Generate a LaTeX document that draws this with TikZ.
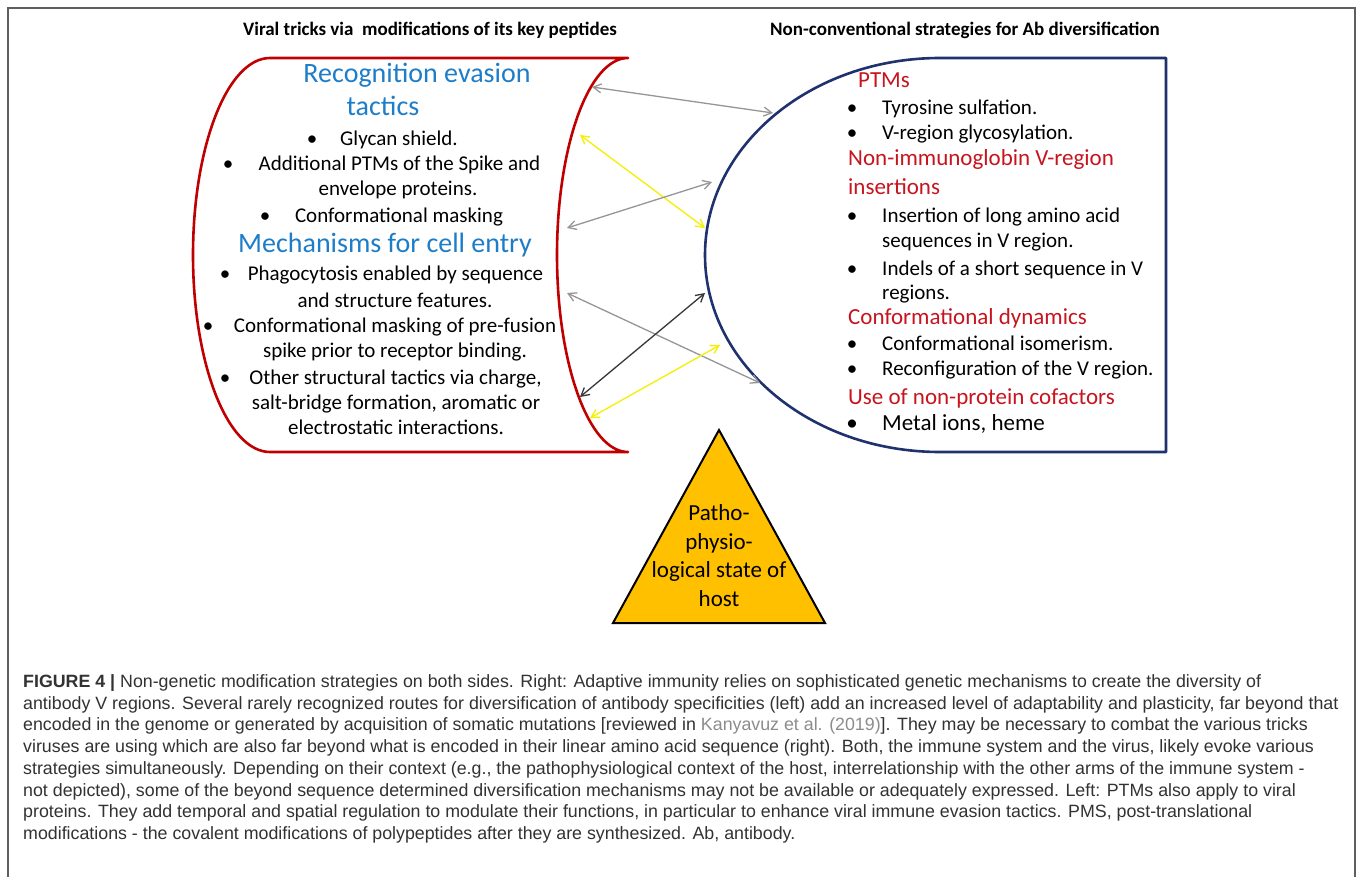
\documentclass[tikz,border=0pt]{standalone}
\usepackage{fontspec}
\setmainfont{Carlito}
\newfontfamily\capfont{Liberation Sans}
\usetikzlibrary{arrows.meta}
\definecolor{frameg}{RGB}{95,95,95}
\definecolor{rline}{RGB}{192,0,0}
\definecolor{bline}{RGB}{31,50,110}
\definecolor{hblue}{RGB}{30,125,200}
\definecolor{hred}{RGB}{200,20,30}
\definecolor{tri}{RGB}{255,192,0}
\definecolor{agray}{RGB}{150,150,150}
\definecolor{adark}{RGB}{55,55,55}
\definecolor{ayel}{RGB}{245,240,0}
\definecolor{captxt}{RGB}{50,50,50}
\definecolor{linkg}{RGB}{140,140,140}
\begin{document}
\begin{tikzpicture}[x=1pt,y=-1pt,
  txt/.style={inner sep=0pt, text=black, font=\fontsize{21}{25}\selectfont},
  bodyc/.style={txt, anchor=mid},
  bodyl/.style={txt, anchor=mid west},
  bul/.style={txt, anchor=mid},
  headb/.style={inner sep=0pt, text=hblue, font=\fontsize{28}{32}\selectfont, anchor=mid},
  headr/.style={inner sep=0pt, text=hred, font=\fontsize{23}{27}\selectfont, anchor=mid west},
  ttl/.style={inner sep=0pt, font=\bfseries\fontsize{19}{22}\selectfont, anchor=mid},
  capl/.style={inner sep=0pt, text=captxt, font=\capfont\fontsize{17.8}{21.7}\selectfont, anchor=base west},
  link/.style={<->, >={Straight Barb[length=8pt,width=9pt]}, line width=1.3pt},
]
\useasboundingbox (0,0) rectangle (1358,877);
\fill[white] (0,0) rectangle (1358,877);
% outer frame
\draw[frameg, line width=2pt] (8,900) -- (8,8) -- (1355,8) -- (1355,900);

% titles
\node[ttl] (tl) at (430,33) {Viral tricks via\ \ modifications of its key peptides};
\node[ttl] (tr) at (965,33) {Non-conventional strategies for Ab diversification};

% left red shape
\draw[rline, line width=2.6pt, line join=round]
  (270,58) -- (628,58) arc[start angle=270, end angle=90, x radius=71, y radius=197]
  -- (270,452) arc[start angle=90, end angle=270, x radius=77, y radius=197] -- cycle;

% right blue shape
\draw[bline, line width=2.6pt, line join=round]
  (1166,58) -- (1166,452) -- (940,452) arc[start angle=90, end angle=270, x radius=235, y radius=197] -- cycle;

% left texts
\node[headb] (l1) at (417,80) {Recognition evasion};
\node[headb] (l2) at (383,113) {tactics};
\node[bul] (lb3) at (312,143) {\textbullet};
\node[bodyc] (l3) at (399,143) {Glycan shield.};
\node[bul] (lb4) at (228,168) {\textbullet};
\node[bodyc] (l4) at (399.5,168) {Additional PTMs of the Spike and};
\node[bodyc] (l5) at (398,193) {envelope proteins.};
\node[bul] (lb6) at (265,220) {\textbullet};
\node[bodyc] (l6) at (399,220) {Conformational masking};
\node[headb] (l7) at (385,250) {Mechanisms for cell entry};
\node[bul] (lb8) at (225,278) {\textbullet};
\node[bodyc] (l8) at (395.5,278) {Phagocytosis enabled by sequence};
\node[bodyc] (l9) at (395,305) {and structure features.};
\node[bul] (lb10) at (208,330) {\textbullet};
\node[bodyc] (l10) at (395,330) {Conformational masking of pre-fusion};
\node[bodyc] (l11) at (395,355) {spike prior to receptor binding.};
\node[bul] (lb12) at (225,382) {\textbullet};
\node[bodyc] (l12) at (395.5,382) {Other structural tactics via charge,};
\node[bodyc] (l13) at (396,407) {salt-bridge formation, aromatic or};
\node[bodyc] (l14) at (396,432) {electrostatic interactions.};

% right texts
\node[headr] (r1) at (858,85) {PTMs};
\node[bul] (rb2) at (852,112) {\textbullet};
\node[bodyl] (r2) at (882,112) {Tyrosine sulfation.};
\node[bul] (rb3) at (852,137) {\textbullet};
\node[bodyl] (r3) at (882,137) {V-region glycosylation.};
\node[headr] (r4) at (848,163) {Non-immunoglobin V-region};
\node[headr] (r5) at (848,192) {insertions};
\node[bul] (rb6) at (852,220) {\textbullet};
\node[bodyl] (r6) at (882,220) {Insertion of long amino acid};
\node[bodyl] (r7) at (882,245) {sequences in V region.};
\node[bul] (rb8) at (852,273) {\textbullet};
\node[bodyl] (r8) at (882,273) {Indels of a short sequence in V};
\node[bodyl] (r9) at (882,297) {regions.};
\node[headr] (r10) at (848,322) {Conformational dynamics};
\node[bul] (rb11) at (852,348) {\textbullet};
\node[bodyl] (r11) at (882,348) {Conformational isomerism.};
\node[bul] (rb12) at (852,373) {\textbullet};
\node[bodyl] (r12) at (882,373) {Reconfiguration of the V region.};
\node[headr] (r13) at (848,402) {Use of non-protein cofactors};
\node[bul, font=\fontsize{23}{27}\selectfont] (rb14) at (852,428) {\textbullet};
\node[bodyl, font=\fontsize{23}{27}\selectfont] (r14) at (882,428) {Metal ions, heme};

% connector end points on the two outlines
\coordinate (a1) at (592,87);  \coordinate (b1) at (773,113);
\coordinate (a2) at (580,135); \coordinate (b2) at (705,228);
\coordinate (a3) at (567,228); \coordinate (b3) at (712,182);
\coordinate (a4) at (567,293); \coordinate (b4) at (760,383);
\coordinate (a5) at (580,397); \coordinate (b5) at (705,293);
\coordinate (a6) at (590,418); \coordinate (b6) at (720,345);
\draw[link, agray] (a1) -- (b1);
\draw[link, ayel]  (a2) -- (b2);
\draw[link, agray] (a3) -- (b3);
\draw[link, agray] (a4) -- (b4);
\draw[link, adark] (a5) -- (b5);
\draw[link, ayel]  (a6) -- (b6);

% triangle
\draw[fill=tri, draw=black, line width=2pt, line join=miter] (719,430) -- (825,623) -- (613,623) -- cycle;
\node[inner sep=0pt, align=center, font=\fontsize{23}{28.5}\selectfont, anchor=base] (host) at (719,606)
  {Patho-\\physio-\\logical state of\\host};

% caption
\node[capl] (c1) at (23,687.5) {\textbf{FIGURE 4 |} Non-genetic modification strategies on both sides. Right: Adaptive immunity relies on sophisticated genetic mechanisms to create the diversity of};
\node[capl] (c2) at (23,709.2) {antibody V regions. Several rarely recognized routes for diversification of antibody specificities (left) add an increased level of adaptability and plasticity, far beyond that};
\node[capl] (c3) at (23,730.9) {encoded in the genome or generated by acquisition of somatic mutations [reviewed in \textcolor{linkg}{Kanyavuz et al. (2019)}]. They may be necessary to combat the various tricks};
\node[capl] (c4) at (23,752.6) {viruses are using which are also far beyond what is encoded in their linear amino acid sequence (right). Both, the immune system and the virus, likely evoke various};
\node[capl] (c5) at (23,774.3) {strategies simultaneously. Depending on their context (e.g., the pathophysiological context of the host, interrelationship with the other arms of the immune system -};
\node[capl] (c6) at (23,796) {not depicted), some of the beyond sequence determined diversification mechanisms may not be available or adequately expressed. Left: PTMs also apply to viral};
\node[capl] (c7) at (23,817.7) {proteins. They add temporal and spatial regulation to modulate their functions, in particular to enhance viral immune evasion tactics. PMS, post-translational};
\node[capl] (c8) at (23,839.4) {modifications - the covalent modifications of polypeptides after they are synthesized. Ab, antibody.};
\end{tikzpicture}
\end{document}
